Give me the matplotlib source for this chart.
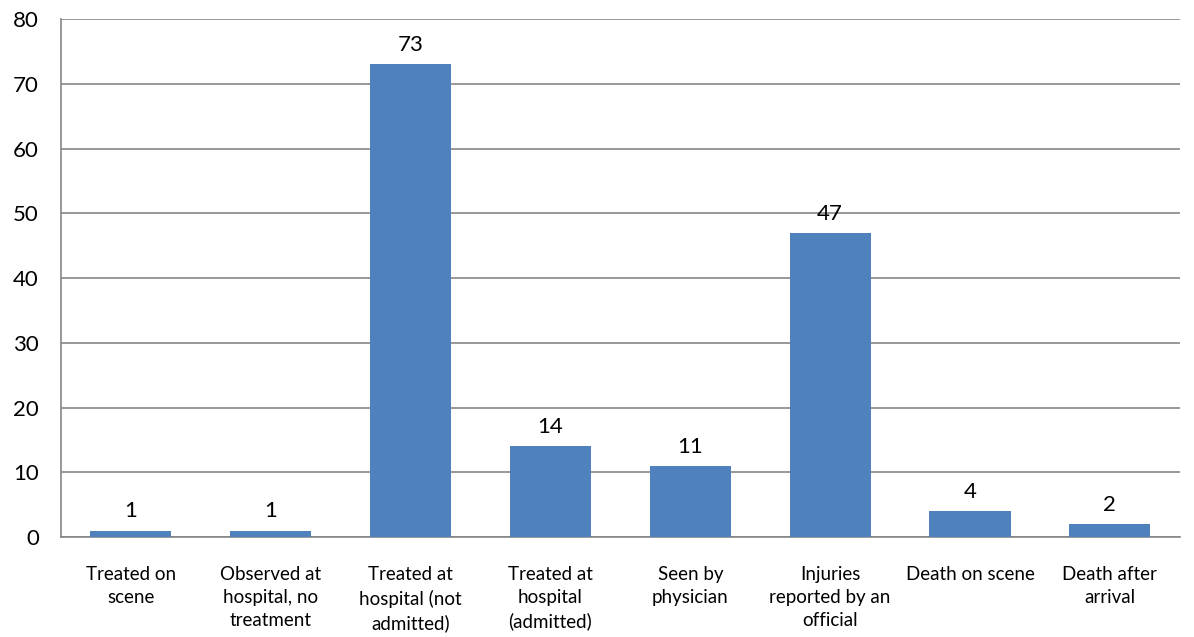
import matplotlib.pyplot as plt

# injury outcome counts
categories = ['Treated on\nscene', 'Observed at\nhospital, no\ntreatment',
              'Treated at\nhospital (not\nadmitted)', 'Treated at\nhospital\n(admitted)',
              'Seen by\nphysician', 'Injuries\nreported by an\nofficial',
              'Death on scene', 'Death after\narrival']
counts = [1, 1, 73, 14, 11, 47, 4, 2]
yticks = [0, 10, 20, 30, 40, 50, 60, 70, 80]

plt.rcParams['font.family'] = ['Lato', 'DejaVu Sans']

fig = plt.figure(figsize=(11.94, 6.37), dpi=100)
ax = fig.add_axes([0.0511, 0.157, 0.937, 0.813])

x = range(len(categories))
bars = ax.bar(x, counts, width=0.58, color='#4F81BD', zorder=3)
for xi, v in zip(x, counts):
    ax.text(xi, v + 1.4, str(v), ha='center', va='bottom', fontsize=16)

ax.set_xlim(-0.5, len(categories) - 0.5)
ax.set_ylim(0, 80)
ax.set_yticks(yticks)
ax.set_yticklabels([str(t) for t in yticks], fontsize=16)
ax.set_xticks(list(x))
ax.set_xticklabels(categories, fontsize=13.5, linespacing=1.42, va='top')
ax.tick_params(axis='x', length=0, pad=21)
ax.tick_params(axis='y', length=0, pad=16)
ax.grid(axis='y', color='#868686', linewidth=1.2, zorder=0)
for s in ['top', 'right']:
    ax.spines[s].set_visible(False)
for s in ['left', 'bottom']:
    ax.spines[s].set_color('#868686')
    ax.spines[s].set_linewidth(1.2)

fig.savefig('out.png', dpi=100)
